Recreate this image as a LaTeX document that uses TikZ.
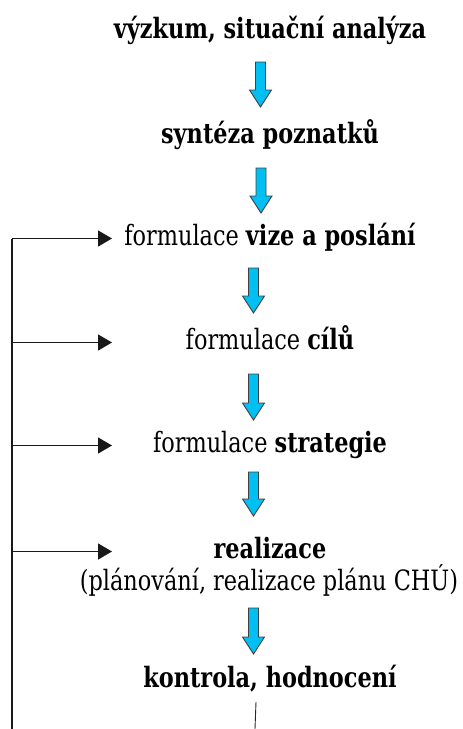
\documentclass[tikz,border=0pt]{standalone}
\usepackage{fontspec}
\setmainfont{DejaVu Serif}[FakeStretch=0.8]
\usetikzlibrary{arrows.meta,calc}
\definecolor{arrowblue}{RGB}{0,191,243}

% fat blue arrow from #1 down to the tip #2
\newcommand{\bluearrow}[2]{%
  \draw[blockarrow] let \p1=#1, \p2=#2 in
    (\x1-5pt,\y1) -- (\x1+5pt,\y1) -- (\x1+5pt,\y2+17pt) -- (\x1+11pt,\y2+17pt)
    -- (\x1,\y2) -- (\x1-11pt,\y2+17pt) -- (\x1-5pt,\y2+17pt) -- cycle;
}

\begin{document}
\begin{tikzpicture}[x=1pt,y=-1pt,
    stage/.style={font=\fontsize{28}{33}\selectfont, anchor=base, text height=19pt, text depth=6pt, inner sep=0pt},
    blockarrow/.style={fill=arrowblue, draw=black!75, line width=0.9pt},
    feedback/.style={line width=1.3pt, draw=black!90, -{Triangle[length=14pt,width=16pt]}}]
    \useasboundingbox (0,0) rectangle (463,729);

    % Steps
    \node[stage] (research) at (270,38) {\textbf{výzkum, situační analýza}};
    \node[stage] (synthesis) at (270,143) {\textbf{syntéza poznatků}};
    \node[stage] (vision) at (270,245) {formulace \textbf{vize a poslání}};
    \node[stage] (goals) at (270,349) {formulace \textbf{cílů}};
    \node[stage] (strategy) at (270,452) {formulace \textbf{strategie}};
    \node[stage] (realization) at (270,558) {\textbf{realizace}};
    \node[stage] (realdetail) at (269,590) {(plánování, realizace plánu CHÚ)};
    \node[stage] (control) at (270,687) {\textbf{kontrola, hodnocení}};

    % Blue arrows
    \bluearrow{([xshift=-9.5pt,yshift=-24pt]research.base)}{([xshift=-9.5pt,yshift=36pt]synthesis.base)}
    \bluearrow{([xshift=-9pt,yshift=-25pt]synthesis.base)}{([xshift=-9pt,yshift=32pt]vision.base)}
    \bluearrow{([xshift=-16.5pt,yshift=-23pt]vision.base)}{([xshift=-16.5pt,yshift=36pt]goals.base)}
    \bluearrow{([xshift=-16.5pt,yshift=-25pt]goals.base)}{([xshift=-16.5pt,yshift=32pt]strategy.base)}
    \bluearrow{([xshift=-16.5pt,yshift=-20pt]strategy.base)}{([xshift=-16.5pt,yshift=42pt]realization.base)}
    \bluearrow{([xshift=-15.5pt,yshift=-18pt]realdetail.base)}{([xshift=-16.5pt,yshift=33pt]control.base)}

    % Feedback loop
    \coordinate (loopend) at (12,729);
    \coordinate (arrowend) at (112,0);
    \coordinate (tailend) at (255,729);
    \draw[line width=1.3pt, black!90] (loopend) -- (loopend |- vision);
    \foreach \n in {vision,goals,strategy,realization}
        \draw[feedback] (loopend |- \n) -- (arrowend |- \n);
    \draw[line width=0.9pt, black!85] ([xshift=-14pt,yshift=-15pt]control.base) -- (tailend);
\end{tikzpicture}
\end{document}
